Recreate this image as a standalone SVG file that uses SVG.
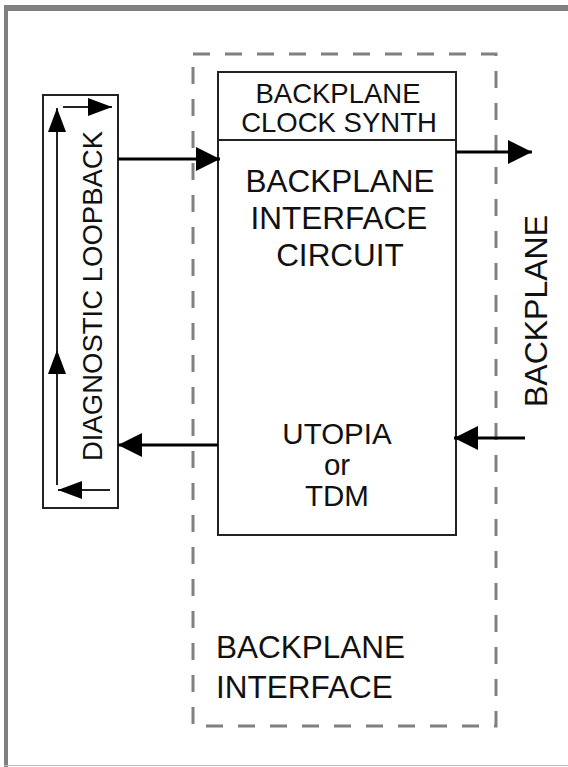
<svg xmlns="http://www.w3.org/2000/svg" width="568" height="767" viewBox="0 0 568 767">
<defs>
<style>
.t{font-family:"Liberation Sans",Arial,sans-serif;fill:#111;}
.box{fill:#fff;stroke:#222;stroke-width:2;}
.con{stroke:#000;stroke-width:3;fill:none;}
.thin{stroke:#222;stroke-width:2;fill:none;}
.dash{fill:none;stroke:#808080;stroke-width:3;stroke-dasharray:17 15;}
</style>
<marker id="ah" viewBox="0 0 24 24" refX="24" refY="12" markerWidth="24" markerHeight="24" markerUnits="userSpaceOnUse" orient="auto">
<path d="M0,0 L24,12 L0,24 Z" fill="#000"/>
</marker>
<marker id="ahs" viewBox="0 0 24 18" refX="24" refY="9" markerWidth="24" markerHeight="18" markerUnits="userSpaceOnUse" orient="auto">
<path d="M0,0 L24,9 L0,18 Z" fill="#000"/>
</marker>
</defs>
<rect x="0" y="0" width="568" height="767" fill="#fff"/>
<g id="frame">
<rect x="4" y="5" width="564" height="6" fill="#808080"/>
<rect x="4" y="5" width="4" height="762" fill="#808080"/>
<line x1="4" y1="765.5" x2="568" y2="765.5" stroke="#bbb" stroke-width="1"/>
</g>
<g id="backplane-interface">
<rect class="dash" x="193" y="54" width="303" height="672"/>
<text class="t" x="216" y="658" font-size="31.5">BACKPLANE</text>
<text class="t" x="216" y="698" font-size="31.5">INTERFACE</text>
</g>
<g id="clock-synth">
<rect class="box" x="218" y="72" width="238" height="68"/>
<text class="t" x="338" y="103" font-size="27.5" text-anchor="middle">BACKPLANE</text>
<text class="t" x="339" y="132" font-size="27.5" text-anchor="middle">CLOCK SYNTH</text>
</g>
<g id="interface-circuit">
<rect class="box" x="218" y="140" width="238" height="395"/>
<text class="t" x="340" y="192" font-size="31.5" text-anchor="middle">BACKPLANE</text>
<text class="t" x="339" y="229" font-size="31.5" text-anchor="middle">INTERFACE</text>
<text class="t" x="340" y="266" font-size="31.5" text-anchor="middle">CIRCUIT</text>
<text class="t" x="337" y="444" font-size="29.5" text-anchor="middle">UTOPIA</text>
<text class="t" x="337" y="475" font-size="29.5" text-anchor="middle">or</text>
<text class="t" x="337" y="506" font-size="29.5" text-anchor="middle">TDM</text>
</g>
<g id="diagnostic-loopback">
<rect class="box" x="43" y="95" width="75" height="413"/>
<text class="t" font-size="27.5" text-anchor="middle" transform="translate(102,296) rotate(-90)">DIAGNOSTIC LOOPBACK</text>
<line class="thin" x1="57" y1="485" x2="57" y2="108" marker-end="url(#ahs)"/>
<line class="thin" x1="57" y1="485" x2="57" y2="350" marker-end="url(#ahs)"/>
<line class="thin" x1="63" y1="107" x2="112" y2="107" marker-end="url(#ahs)"/>
<line class="thin" x1="110" y1="490" x2="58" y2="490" marker-end="url(#ahs)"/>
</g>
<g id="backplane">
<text class="t" font-size="32" text-anchor="middle" transform="translate(547,311) rotate(-90)">BACKPLANE</text>
</g>
<g id="connectors">
<line class="con" x1="118" y1="159" x2="220" y2="159" marker-end="url(#ah)"/>
<line class="con" x1="218" y1="445" x2="118" y2="445" marker-end="url(#ah)"/>
<line class="con" x1="456" y1="152" x2="532" y2="152" marker-end="url(#ah)"/>
<line class="con" x1="525" y1="438" x2="454" y2="438" marker-end="url(#ah)"/>
</g>
</svg>
